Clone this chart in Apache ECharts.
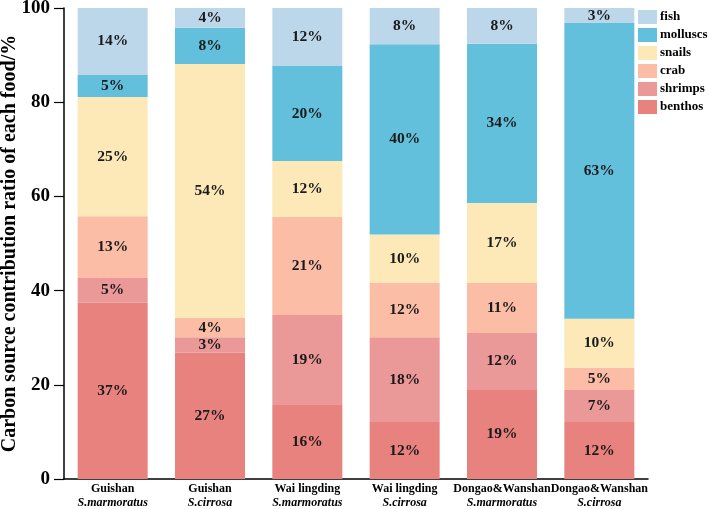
<!DOCTYPE html>
<html>
<head>
<meta charset="utf-8">
<script src="https://cdn.jsdelivr.net/npm/echarts@6/dist/echarts.min.js"></script>
<style>
  html, body { margin: 0; padding: 0; background: #fff; }
  #chart { width: 709px; height: 509px; }
</style>
</head>
<body>
<div id="chart"></div>
<script>
// sites and species, one bar each
var sites = ['Guishan', 'Guishan', 'Wai lingding', 'Wai lingding', 'Dongao&Wanshan', 'Dongao&Wanshan'];
var species = ['S.marmoratus', 'S.cirrosa', 'S.marmoratus', 'S.cirrosa', 'S.marmoratus', 'S.cirrosa'];

// contribution of each food, %
var benthos  = [37.4, 26.8, 15.7, 12.1, 18.9, 12.1];
var shrimps  = [5.3, 3.3, 19.1, 18.0, 12.1, 6.8];
var crab     = [13.1, 4.1, 20.8, 11.6, 10.6, 4.7];
var snails   = [25.3, 53.9, 11.9, 10.2, 17.0, 10.4];
var molluscs = [4.7, 7.7, 20.2, 40.4, 33.8, 62.8];
var fish     = [14.2, 4.2, 12.3, 7.7, 7.6, 3.2];

var yTicks = [0, 20, 40, 60, 80, 100];

var font = 'Liberation Serif';

var categories = [];
for (var i = 0; i < sites.length; i++) {
  categories.push(sites[i] + '\n' + species[i]);
}

function makeSeries(name, data, color) {
  return {
    name: name,
    type: 'bar',
    stack: 'total',
    barWidth: 70,
    data: data,
    itemStyle: { color: color },
    label: {
      show: true,
      position: 'inside',
      formatter: function (p) { return Math.round(p.value) + '%'; },
      fontFamily: font,
      fontWeight: 'bold',
      fontSize: 15.5,
      color: '#1a1a1a'
    },
    emphasis: { disabled: true }
  };
}

var option = {
  animation: false,
  grid: {
    left: 64,
    right: 61,
    top: 8,
    bottom: 30,
    outerBoundsMode: 'none'
  },
  legend: {
    orient: 'vertical',
    left: 638,
    top: 10,
    padding: 0,
    itemWidth: 19,
    itemHeight: 14,
    itemGap: 4,
    icon: 'rect',
    data: ['fish', 'molluscs', 'snails', 'crab', 'shrimps', 'benthos'],
    textStyle: {
      fontFamily: font,
      fontWeight: 'bold',
      fontSize: 13,
      color: '#000',
      padding: [0, 0, 0, -2]
    }
  },
  xAxis: {
    type: 'category',
    data: categories,
    axisLine: { lineStyle: { color: '#000', width: 1.5 } },
    axisTick: { inside: true, length: 4, lineStyle: { color: '#000', width: 1.2 } },
    axisLabel: {
      margin: 3,
      interval: 0,
      hideOverlap: false,
      formatter: function (v) {
        var parts = v.split('\n');
        return '{a|' + parts[0] + '}\n{b|' + parts[1] + '}';
      },
      rich: {
        a: { fontFamily: font, fontWeight: 'bold', fontSize: 12, color: '#000', lineHeight: 14 },
        b: { fontFamily: font, fontWeight: 'bold', fontStyle: 'italic', fontSize: 12, color: '#000', lineHeight: 14 }
      }
    }
  },
  yAxis: {
    type: 'value',
    min: yTicks[0],
    max: yTicks[yTicks.length - 1],
    interval: 20,
    name: 'Carbon source contribution ratio of each food/%',
    nameLocation: 'middle',
    nameGap: 44,
    nameMoveOverlap: false,
    nameTextStyle: {
      fontFamily: font,
      fontWeight: 'bold',
      fontSize: 20,
      color: '#000'
    },
    axisLine: { show: true, lineStyle: { color: '#000', width: 1.5 } },
    axisTick: { show: true, length: 10, lineStyle: { color: '#000', width: 1.2 } },
    splitLine: { show: false },
    axisLabel: {
      margin: 14,
      fontFamily: font,
      fontWeight: 'bold',
      fontSize: 19,
      color: '#000'
    }
  },
  series: [
    makeSeries('benthos', benthos, '#e8827e'),
    makeSeries('shrimps', shrimps, '#ea9898'),
    makeSeries('crab', crab, '#fbbda5'),
    makeSeries('snails', snails, '#fde8b8'),
    makeSeries('molluscs', molluscs, '#62c0dc'),
    makeSeries('fish', fish, '#bdd7ea')
  ]
};

var chart = echarts.init(document.getElementById('chart'));
chart.setOption(option);
</script>
</body>
</html>
